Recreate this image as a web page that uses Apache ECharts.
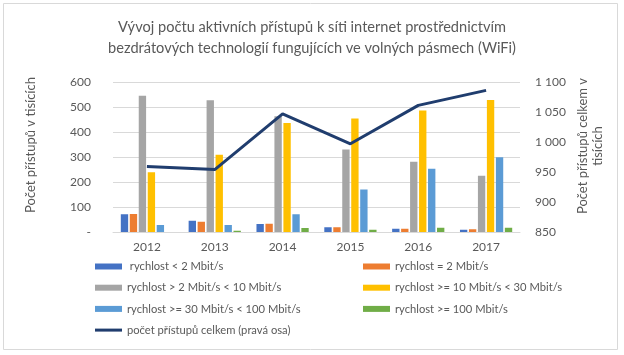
<!DOCTYPE html>
<html><head><meta charset="utf-8">
<script src="https://cdn.jsdelivr.net/npm/echarts@6/dist/echarts.min.js"></script>
<style>html,body{margin:0;padding:0;background:#fff}#c{width:624px;height:355px}</style>
</head><body><div id="c"></div>
<script>
const years = ['2012','2013','2014','2015','2016','2017'];
const names = [' rychlost < 2 Mbit/s','rychlost = 2 Mbit/s','rychlost > 2 Mbit/s < 10 Mbit/s','rychlost >= 10 Mbit/s < 30 Mbit/s','rychlost >= 30 Mbit/s < 100 Mbit/s','rychlost >= 100 Mbit/s'];
const lineName = 'počet přístupů celkem (pravá osa)';
const leftAxisName = 'Počet přístupů v tisících';
const rightAxisName = 'Počet přístupů celkem v\ntisících';
const lt2 = [71, 45, 32, 19, 13, 9];
const eq2 = [72, 41, 33, 19, 13, 11];
const r2to10 = [545, 527, 463, 330, 281, 225];
const r10to30 = [239, 309, 436, 454, 486, 528];
const r30to100 = [28, 28, 71, 170, 253, 299];
const ge100 = [0, 5, 16, 9, 17, 17];
const total = [959, 954, 1047, 997, 1061, 1086];
const colors = ['#4472C4','#ED7D31','#A5A5A5','#FFC000','#5B9BD5','#70AD47'];
const lineColor = '#203D6E';
const FONT = 'Lato';
const txt = '#595959';
const barData = [lt2, eq2, r2to10, r10to30, r30to100, ge100];
const series = barData.map((d,i)=>({
  name: names[i], type:'bar', data:d, itemStyle:{color:colors[i]},
  barGap:'22%', barCategoryGap:'23%', yAxisIndex:0
}));
series.push({name: lineName, type:'line', data: total, yAxisIndex:1, symbol:'none',
  lineStyle:{color:lineColor, width:3}, itemStyle:{color:lineColor}});
const chart = echarts.init(document.getElementById('c'), null, {renderer:'canvas'});
const legText = {color:txt, fontSize:11.2, fontFamily:FONT};
const rectItem = n => ({name:n, icon:'rect'});
chart.setOption({
  animation:false,
  textStyle:{fontFamily:FONT},
  title:{text:'Vývoj počtu aktivních přístupů k síti internet prostřednictvím\nbezdrátových technologií fungujících ve volných pásmech (WiFi)',
    left:'center', top:12, textStyle:{color:txt, fontSize:14.6, fontWeight:'normal', lineHeight:21, fontFamily:FONT}},
  graphic:[
    {type:'rect', shape:{x:3.5,y:3.5,width:614,height:346}, style:{fill:'none', stroke:'#d9d9d9', lineWidth:1}, silent:true},
    {type:'text', x:31, y:145, rotation:Math.PI/2, style:{text:leftAxisName, fill:txt, font:'13px '+FONT, align:'center', verticalAlign:'middle'}, silent:true},
    {type:'text', x:590, y:146, rotation:Math.PI/2, style:{text:rightAxisName, fill:txt, font:'13px '+FONT, align:'center', verticalAlign:'middle', lineHeight:15}, silent:true}
  ],
  grid:{left:113, right:104, top:82, bottom:123},
  legend:[
    {data:[rectItem(names[0]),rectItem(names[2]),rectItem(names[4]),{name:lineName, icon:'path://M0,0H27V3H0Z', itemStyle:{borderWidth:0}}], orient:'vertical', left:90, top:256, itemWidth:27, itemHeight:6, itemGap:10.2, textStyle:legText},
    {data:[rectItem(names[1]),rectItem(names[3]),rectItem(names[5])], orient:'vertical', left:358, top:256, itemWidth:27, itemHeight:6, itemGap:10.2, textStyle:legText}
  ],
  xAxis:{type:'category', data:years, axisTick:{show:false}, axisLine:{lineStyle:{color:'#d9d9d9'}},
    axisLabel:{color:txt, fontSize:12, margin:9}},
  yAxis:[
    {type:'value', min:0, max:600, interval:100,
      axisLabel:{color:txt, fontSize:12, margin:22, formatter:v=> v===0?'-':String(v)},
      splitLine:{lineStyle:{color:'#d9d9d9'}}, axisLine:{show:false}, axisTick:{show:false}},
    {type:'value', min:850, max:1100, interval:50, position:'right',
      axisLabel:{color:txt, fontSize:12, margin:15, formatter:v=>{const s=String(v);return s.length>3? s.slice(0,s.length-3)+' '+s.slice(-3):s;}},
      splitLine:{show:false}, axisLine:{show:false}, axisTick:{show:false}}
  ],
  series
});
</script></body></html>
